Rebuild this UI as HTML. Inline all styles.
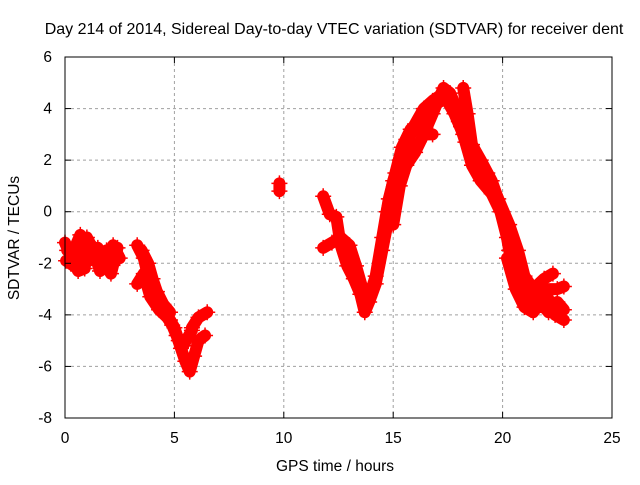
<!DOCTYPE html>
<html><head><meta charset="utf-8"><style>
body{margin:0;background:#fff;font-family:"Liberation Sans",sans-serif}
svg text{font-family:"Liberation Sans",sans-serif;font-size:15.5px;fill:#000}
</style></head><body>
<svg id="chart" width="640" height="480">
<rect width="640" height="480" fill="#fff"/>
<text x="334" y="34" text-anchor="middle" style="font-size:16px">Day 214 of 2014, Sidereal Day-to-day VTEC variation (SDTVAR) for receiver dent</text>
<text x="335" y="471" text-anchor="middle">GPS time / hours</text>
<text transform="translate(19,238) rotate(-90)" text-anchor="middle">SDTVAR / TECUs</text>
<g id="grid"></g><g id="marks"></g>
<rect x="65" y="57" width="547" height="361" fill="none" stroke="#000"/>
<g id="ticks"></g>
</svg>
<script>
const xTicks=[0,5,10,15,20,25];
const yTicks=[-8,-6,-4,-2,0,2,4,6];
const trackA1=[[0,-1.2],[0.3,-1.8],[0.6,-2.3],[0.9,-2.2],[1.0,-1.0],[1.3,-1.5],[1.6,-2.3],[1.9,-1.8],[2.2,-1.3],[2.5,-1.8]];
const trackA2=[[0.1,-1.5],[0.4,-1.5],[0.7,-0.9],[1.1,-1.9],[1.5,-1.4],[1.8,-2.0],[2.1,-2.4],[2.4,-1.4]];
const trackA3=[[0.05,-1.9],[0.4,-2.1],[0.8,-1.6],[1.2,-1.3],[1.5,-1.9],[1.9,-1.5],[2.3,-1.9]];
const trackB1=[[3.3,-1.3],[3.6,-1.8],[3.8,-2.5],[4.0,-3.0],[4.3,-3.5],[4.6,-4.0],[4.9,-4.4],[5.1,-4.8],[5.3,-5.3],[5.5,-5.8],[5.7,-6.2],[5.9,-5.6],[6.1,-5.0],[6.4,-4.8]];
const trackB2=[[3.3,-2.8],[3.6,-2.4],[3.9,-3.3],[4.3,-3.8],[4.8,-4.2],[5.0,-4.5],[5.2,-5.0],[5.4,-5.2],[5.6,-4.9],[5.8,-4.6]];
const trackB3=[[5.8,-4.5],[6.1,-4.1],[6.5,-3.9]];
const trackB4=[[3.5,-1.5],[3.8,-2.0],[4.0,-2.6],[4.2,-3.1],[4.5,-3.6],[4.8,-3.9]];
const trackD=[[9.8,1.1],[9.8,0.8]];
const trackC1=[[11.8,0.6],[12.1,-0.1],[12.4,-0.2],[12.6,-1.3],[12.9,-2.1],[13.2,-2.6],[13.5,-3.2],[13.7,-3.9],[13.9,-3.5],[14.2,-2.8],[14.5,-1.5],[14.8,-0.2],[15.0,0.8],[15.3,2.0],[15.6,2.8],[16.0,3.4],[16.4,4.0],[16.8,4.3],[17.3,4.6],[17.6,4.3],[18.0,3.5],[18.3,2.7],[18.6,1.8],[19.0,1.2],[19.5,0.7],[19.9,0.0],[20.2,-1.0],[20.5,-2.0],[20.8,-3.0],[21.2,-3.5],[21.6,-3.3],[22.0,-3.0],[22.5,-3.0],[22.8,-2.9]];
const trackC2=[[11.8,-1.4],[12.2,-1.2],[12.6,-1.0],[13.0,-1.3],[13.3,-2.1],[13.6,-3.0],[13.9,-3.3],[14.2,-2.5],[14.5,-1.0],[14.8,0.5],[15.1,1.5],[15.4,2.5],[15.8,3.2],[16.2,3.5],[16.5,3.0],[16.8,3.0]];
const trackC3=[[15.0,-0.5],[15.3,1.0],[15.6,1.8],[16.0,2.3],[16.4,3.0],[16.8,3.8],[17.1,4.4],[17.3,4.8],[17.6,4.6],[17.9,4.0],[18.1,3.3],[18.3,3.0]];
const trackC4=[[18.2,4.8],[18.4,3.8],[18.6,2.6],[19.0,2.0],[19.5,1.2],[20.0,0.0],[20.3,-1.5],[20.6,-2.5],[21.0,-3.3],[21.3,-3.8],[21.7,-3.5],[22.1,-3.9],[22.5,-3.5],[22.8,-3.8]];
const trackC5=[[20.2,-1.8],[20.6,-3.0],[21.0,-3.7],[21.4,-3.9],[22.0,-3.2],[22.4,-4.0],[22.8,-4.2]];
const trackC6=[[14.7,0.0],[15.0,1.2],[15.4,2.2],[15.8,3.0],[16.3,3.7],[16.8,4.1],[17.4,4.4],[17.8,3.8],[18.2,3.0],[18.7,2.2],[19.3,1.5],[19.8,0.5],[20.3,-0.5],[20.7,-1.5],[21.0,-2.5],[21.4,-3.0],[21.9,-2.6],[22.3,-2.4]];
const tracks=[trackA1,trackA2,trackA3,trackB1,trackB2,trackB3,trackB4,trackD,trackC1,trackC2,trackC3,trackC4,trackC5,trackC6];
const X=h=>65+h*547/25, Y=v=>57+(6-v)*361/14;
const NS="http://www.w3.org/2000/svg";
const grid=document.getElementById('grid'),ticks=document.getElementById('ticks'),marks=document.getElementById('marks');
function mk(tag,attrs,parent){const e=document.createElementNS(NS,tag);for(const k in attrs)e.setAttribute(k,attrs[k]);parent.appendChild(e);return e;}
xTicks.forEach(t=>{const x=X(t);
 if(t>0&&t<25){const g=mk('line',{x1:x,x2:x,y1:57,y2:418,stroke:'#a0a0a0','stroke-dasharray':'3,3'},grid);}
 mk('line',{x1:x,x2:x,y1:418,y2:412,stroke:'#000'},ticks);mk('line',{x1:x,x2:x,y1:57,y2:63,stroke:'#000'},ticks);
 const l=mk('text',{x:x,y:443,'text-anchor':'middle'},ticks);l.textContent=t;
 });
yTicks.forEach(t=>{const y=Y(t);
 if(t>-8&&t<6){const g=mk('line',{x1:65,x2:612,y1:y,y2:y,stroke:'#a0a0a0','stroke-dasharray':'3,3'},grid);}
 mk('line',{x1:65,x2:71,y1:y,y2:y,stroke:'#000'},ticks);mk('line',{x1:612,x2:606,y1:y,y2:y,stroke:'#000'},ticks);
 const l=mk('text',{x:52,y:y+5,'text-anchor':'end'},ticks);l.textContent=t;
 });
tracks.forEach(tr=>{
 const p=mk('polyline',{points:tr.map(d=>X(d[0])+','+Y(d[1])).join(' '),fill:'none',stroke:'#ff0000','stroke-width':12,'stroke-linejoin':'round','stroke-linecap':'round'},marks);
 
 
 tr.forEach(d=>{const x=X(d[0]),y=Y(d[1]);
  const m=mk('path',{d:`M${x-8},${y}h16M${x},${y-8}v16`,stroke:'#ff0000','stroke-width':1.5},marks);
  
  });
});
</script>
</body></html>
